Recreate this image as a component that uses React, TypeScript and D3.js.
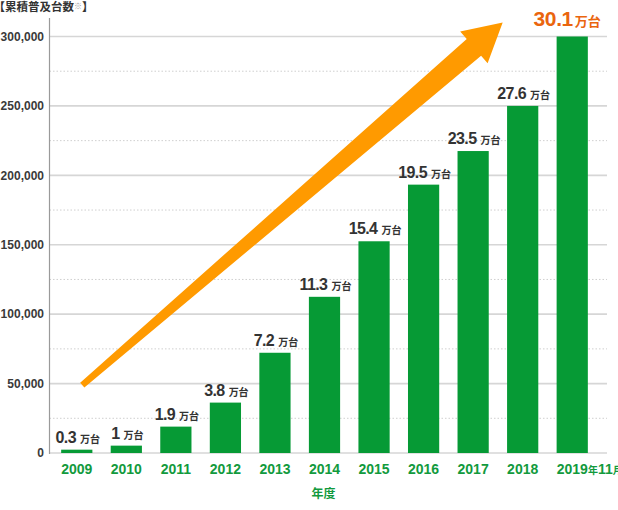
import React from "react";
import * as d3 from "d3";

const categories = ["2009", "2010", "2011", "2012", "2013", "2014", "2015", "2016", "2017", "2018", "2019"];
// bar heights as drawn in the picture
const barValues = [2400, 5300, 19000, 36300, 72200, 112500, 152500, 193300, 217500, 250000, 300000];
// labels shown above bars (万台)
const labelValues = ["0.3", "1", "1.9", "3.8", "7.2", "11.3", "15.4", "19.5", "23.5", "27.6", "30.1"];
const majorTicks = [0, 50000, 100000, 150000, 200000, 250000, 300000];
const minorTicks = [25000, 75000, 125000, 175000, 225000, 275000];

const W = 618;
const H = 510;
const FONT = "'Liberation Sans', Arial, 'Noto Sans CJK JP', sans-serif";
const CJK = "'Noto Sans CJK JP', 'Liberation Sans', sans-serif";
const GREEN = "#069a35";
const LABEL_GREEN = "#129a3d";
const ORANGE = "#ff9a00";
const ORANGE_TEXT = "#ea650e";

export default function App() {
  const axisX = 49.5;
  const gridRight = 607;
  const y = d3.scaleLinear().domain([0, 300000]).range([453, 36.5]);
  const x = d3
    .scaleBand<string>()
    .domain(categories)
    .range([52, 597])
    .paddingInner(0.37)
    .paddingOuter(0.185);
  const bw = x.bandwidth();
  const cx = (c: string) => (x(c) as number) + bw / 2;

  // arrow geometry derived from scales
  const S = { x: cx("2009") + 5.5, y: y(50000) + 1.5 };
  const T = { x: cx("2018") - 20, y: y(310000) };
  const dx = T.x - S.x;
  const dy = T.y - S.y;
  const L = Math.hypot(dx, dy);
  const u = { x: dx / L, y: dy / L };
  const n = { x: -u.y, y: u.x };
  const headLen = 38;
  const headHalf = 21;
  const w0 = 3.2;
  const w1 = 11;
  const B = { x: T.x - u.x * headLen, y: T.y - u.y * headLen };
  const pt = (p: { x: number; y: number }, k: number) => [p.x + n.x * k, p.y + n.y * k] as [number, number];
  const arrowPts = [
    pt(S, w0),
    pt(B, w1),
    pt(B, headHalf),
    [T.x, T.y] as [number, number],
    pt(B, -headHalf),
    pt(B, -w1),
    pt(S, -w0),
  ];
  const arrowPath = d3.line()(arrowPts) + "Z";

  return (
    <svg
      width={W}
      height={H}
      style={{ position: "absolute", left: 0, top: 0, background: "#fff" }}
      fontFamily={FONT}
    >
      {/* title */}
      <text x={-6.5} y={11} fontFamily={CJK} fontWeight={700} fontSize={11.5} fill="#333">
        【累積普及台数
        <tspan fontSize={8} fontWeight={400} fill="#9a9a9a" dy={-2.5}>※</tspan>
        <tspan dy={2.5}>】</tspan>
      </text>

      {/* minor grid */}
      {minorTicks.map((t) => (
        <line
          key={"m" + t}
          x1={axisX}
          x2={gridRight}
          y1={y(t)}
          y2={y(t)}
          stroke="#cfcfcf"
          strokeWidth={1}
          strokeDasharray="1.5,2"
        />
      ))}
      {/* major grid */}
      {majorTicks.map((t) => (
        <line key={"g" + t} x1={axisX} x2={gridRight} y1={y(t)} y2={y(t)} stroke="#d6d6d6" strokeWidth={1.6} />
      ))}
      {/* y tick labels */}
      {majorTicks.map((t) => (
        <text
          key={"t" + t}
          x={44}
          y={y(t)}
          dy="0.36em"
          textAnchor="end"
          fontSize={12}
          fontWeight={700}
          fill="#3a3a3a"
        >
          {d3.format(",")(t)}
        </text>
      ))}
      {/* axis line */}
      <line x1={axisX} x2={axisX} y1={18} y2={y(0) + 1} stroke="#9a9a9a" strokeWidth={1.2} />

      {/* bars */}
      {categories.map((c, i) => (
        <rect key={"b" + c} x={x(c)} y={y(barValues[i])} width={bw} height={y(0) - y(barValues[i])} fill={GREEN} />
      ))}

      {/* arrow */}
      <path d={arrowPath} fill={ORANGE} />

      {/* value labels */}
      {categories.map((c, i) => {
        const last = i === categories.length - 1;
        if (last) {
          return (
            <text
              key={"v" + c}
              x={cx(c) - 5}
              y={y(barValues[i]) - 11}
              textAnchor="middle"
              fontWeight={700}
              fill={ORANGE_TEXT}
              fontSize={21}
              letterSpacing={-0.4}
            >
              {labelValues[i]}
              <tspan fontFamily={CJK} fontSize={13} dx={2} letterSpacing={0}>万台</tspan>
            </text>
          );
        }
        return (
          <text
            key={"v" + c}
            x={cx(c) + 1}
            y={y(barValues[i]) - 7}
            textAnchor="middle"
            fontWeight={700}
            fill="#333"
            fontSize={16}
            letterSpacing={-0.6}
          >
            {labelValues[i]}
            <tspan fontFamily={CJK} fontSize={10} dx={4} letterSpacing={0}>万台</tspan>
          </text>
        );
      })}

      {/* x labels */}
      {categories.map((c, i) => {
        const last = i === categories.length - 1;
        if (last) {
          return (
            <text key={"x" + c} x={cx(c) - 15.5} y={474} fontSize={14} fontWeight={700} fill={LABEL_GREEN}>
              {c}
              <tspan fontFamily={CJK} fontSize={10}>年</tspan>
              <tspan>11</tspan>
              <tspan fontFamily={CJK} fontSize={10}>月</tspan>
            </text>
          );
        }
        return (
          <text key={"x" + c} x={cx(c)} y={474} textAnchor="middle" fontSize={14} fontWeight={700} fill={LABEL_GREEN}>
            {c}
          </text>
        );
      })}
      <text x={323.5} y={498} textAnchor="middle" fontFamily={CJK} fontSize={12} fontWeight={700} fill={LABEL_GREEN}>
        年度
      </text>
    </svg>
  );
}
